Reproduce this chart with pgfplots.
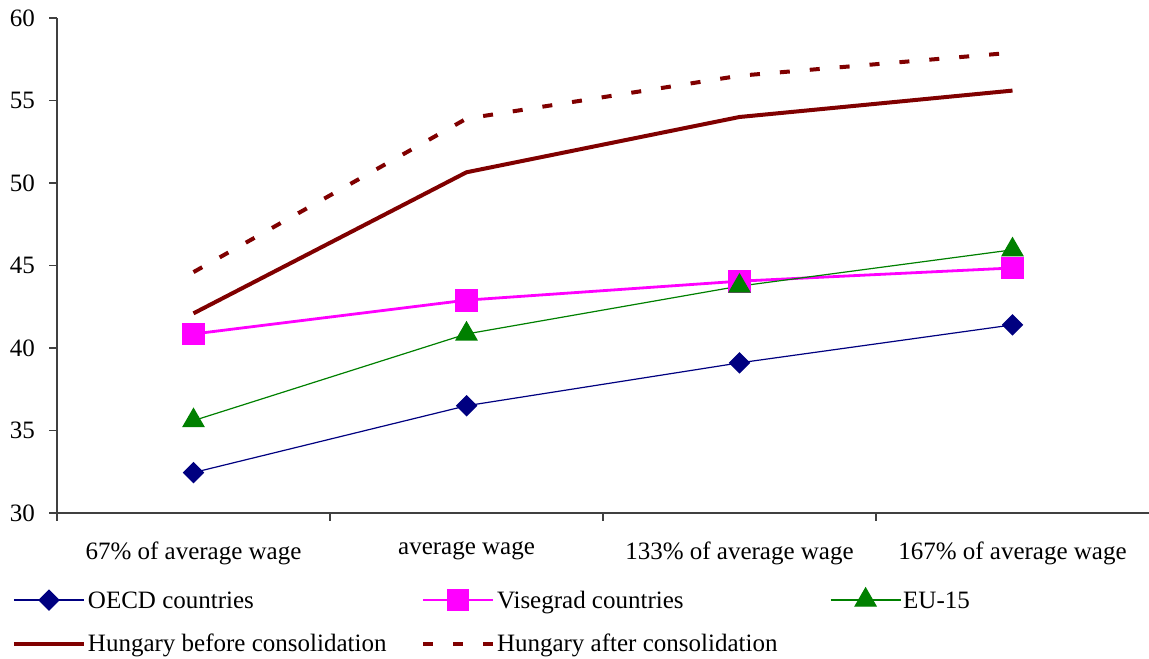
\documentclass[border=0pt]{standalone}
\usepackage{pgfplots}
\pgfplotsset{compat=1.18}
\usepackage{fontspec}
\setmainfont{Liberation Serif}
\definecolor{oecd}{RGB}{0,0,128}
\definecolor{vise}{RGB}{255,0,255}
\definecolor{eu}{RGB}{0,128,0}
\definecolor{hun}{RGB}{128,0,0}
\begin{document}
\fontsize{12.5pt}{15pt}\selectfont
\begin{tikzpicture}
\begin{axis}[
  at={(0,0)}, anchor=south west,
  scale only axis, width=546pt, height=247.5pt,
  xmin=-0.5, xmax=3.5, ymin=30, ymax=60,
  axis x line=bottom, axis y line=left,
  axis line style={-, draw=black!75, line width=0.6pt},
  xtick={-0.5,0.5,1.5,2.5},
  xticklabels={},
  x tick style={draw=black!75, line width=0.6pt},
  xtick align=outside,
  extra x ticks={0,1,2,3},
  extra x tick labels={67\% of average wage, average wage, 133\% of average wage, 167\% of average wage},
  extra x tick style={major tick length=0pt, xticklabel style={yshift=-10pt}},
  ytick={30,35,40,45,50,55,60},
  y tick style={draw=black!75, line width=0.6pt},
  major tick length=3.75pt, tick align=outside,
  yticklabel style={xshift=-3pt},
  /pgf/number format/assume math mode=true,
  legend columns=3,
  legend style={at={(axis description cs:0,0)}, anchor=north west, xshift=-22.5pt, yshift=-37.5pt,
    draw=none, fill=none, inner sep=0pt, outer sep=0pt, row sep=10pt, column sep=0pt,
    nodes={inner sep=0pt, outer sep=0pt}},
  legend cell align=left,
  legend image code/.code={\draw[mark repeat=2,mark phase=2,#1] plot coordinates {(0pt,0pt)(17.5pt,0pt)(35pt,0pt)};},
]
\addplot[color=oecd, line width=0.6pt, mark=square*, mark size=3.5pt, mark options={rotate=45, solid, fill=oecd}]
  coordinates {(0,32.45) (1,36.5) (2,39.1) (3,41.4)};
\addlegendentry{\makebox[167.5pt][l]{\rule[-4pt]{0pt}{14pt}\hspace*{1pt}OECD countries}}
\addplot[color=vise, line width=1.4pt, mark=square*, mark size=5pt, mark options={solid, fill=vise}]
  coordinates {(0,40.85) (1,42.9) (2,44.05) (3,44.85)};
\addlegendentry{\makebox[167.5pt][l]{\rule[-4pt]{0pt}{14pt}\hspace*{1pt}Visegrad countries}}
\addplot[color=eu, line width=0.6pt, mark=triangle*, mark size=6pt, mark options={solid, fill=eu}]
  coordinates {(0,35.6) (1,40.85) (2,43.75) (3,45.95)};
\addlegendentry{\makebox[167.5pt][l]{\rule[-4pt]{0pt}{14pt}\hspace*{1pt}EU-15}}
\addplot[color=hun, line width=2pt, line join=round]
  coordinates {(0,42.1) (1,50.65) (2,54.0) (3,55.6)};
\addlegendentry{\makebox[167.5pt][l]{\rule[-4pt]{0pt}{14pt}\hspace*{1pt}Hungary before consolidation}}
\addplot[color=hun, line width=2pt, dash pattern=on 5pt off 10pt]
  coordinates {(0,44.6) (1,53.9) (2,56.5) (3,57.9)};
\addlegendentry{\makebox[167.5pt][l]{\rule[-4pt]{0pt}{14pt}\hspace*{1pt}Hungary after consolidation}}
\end{axis}
\pgfresetboundingbox
\path (-28.5pt,-72.5pt) rectangle (546pt,256.5pt);
\end{tikzpicture}
\end{document}
